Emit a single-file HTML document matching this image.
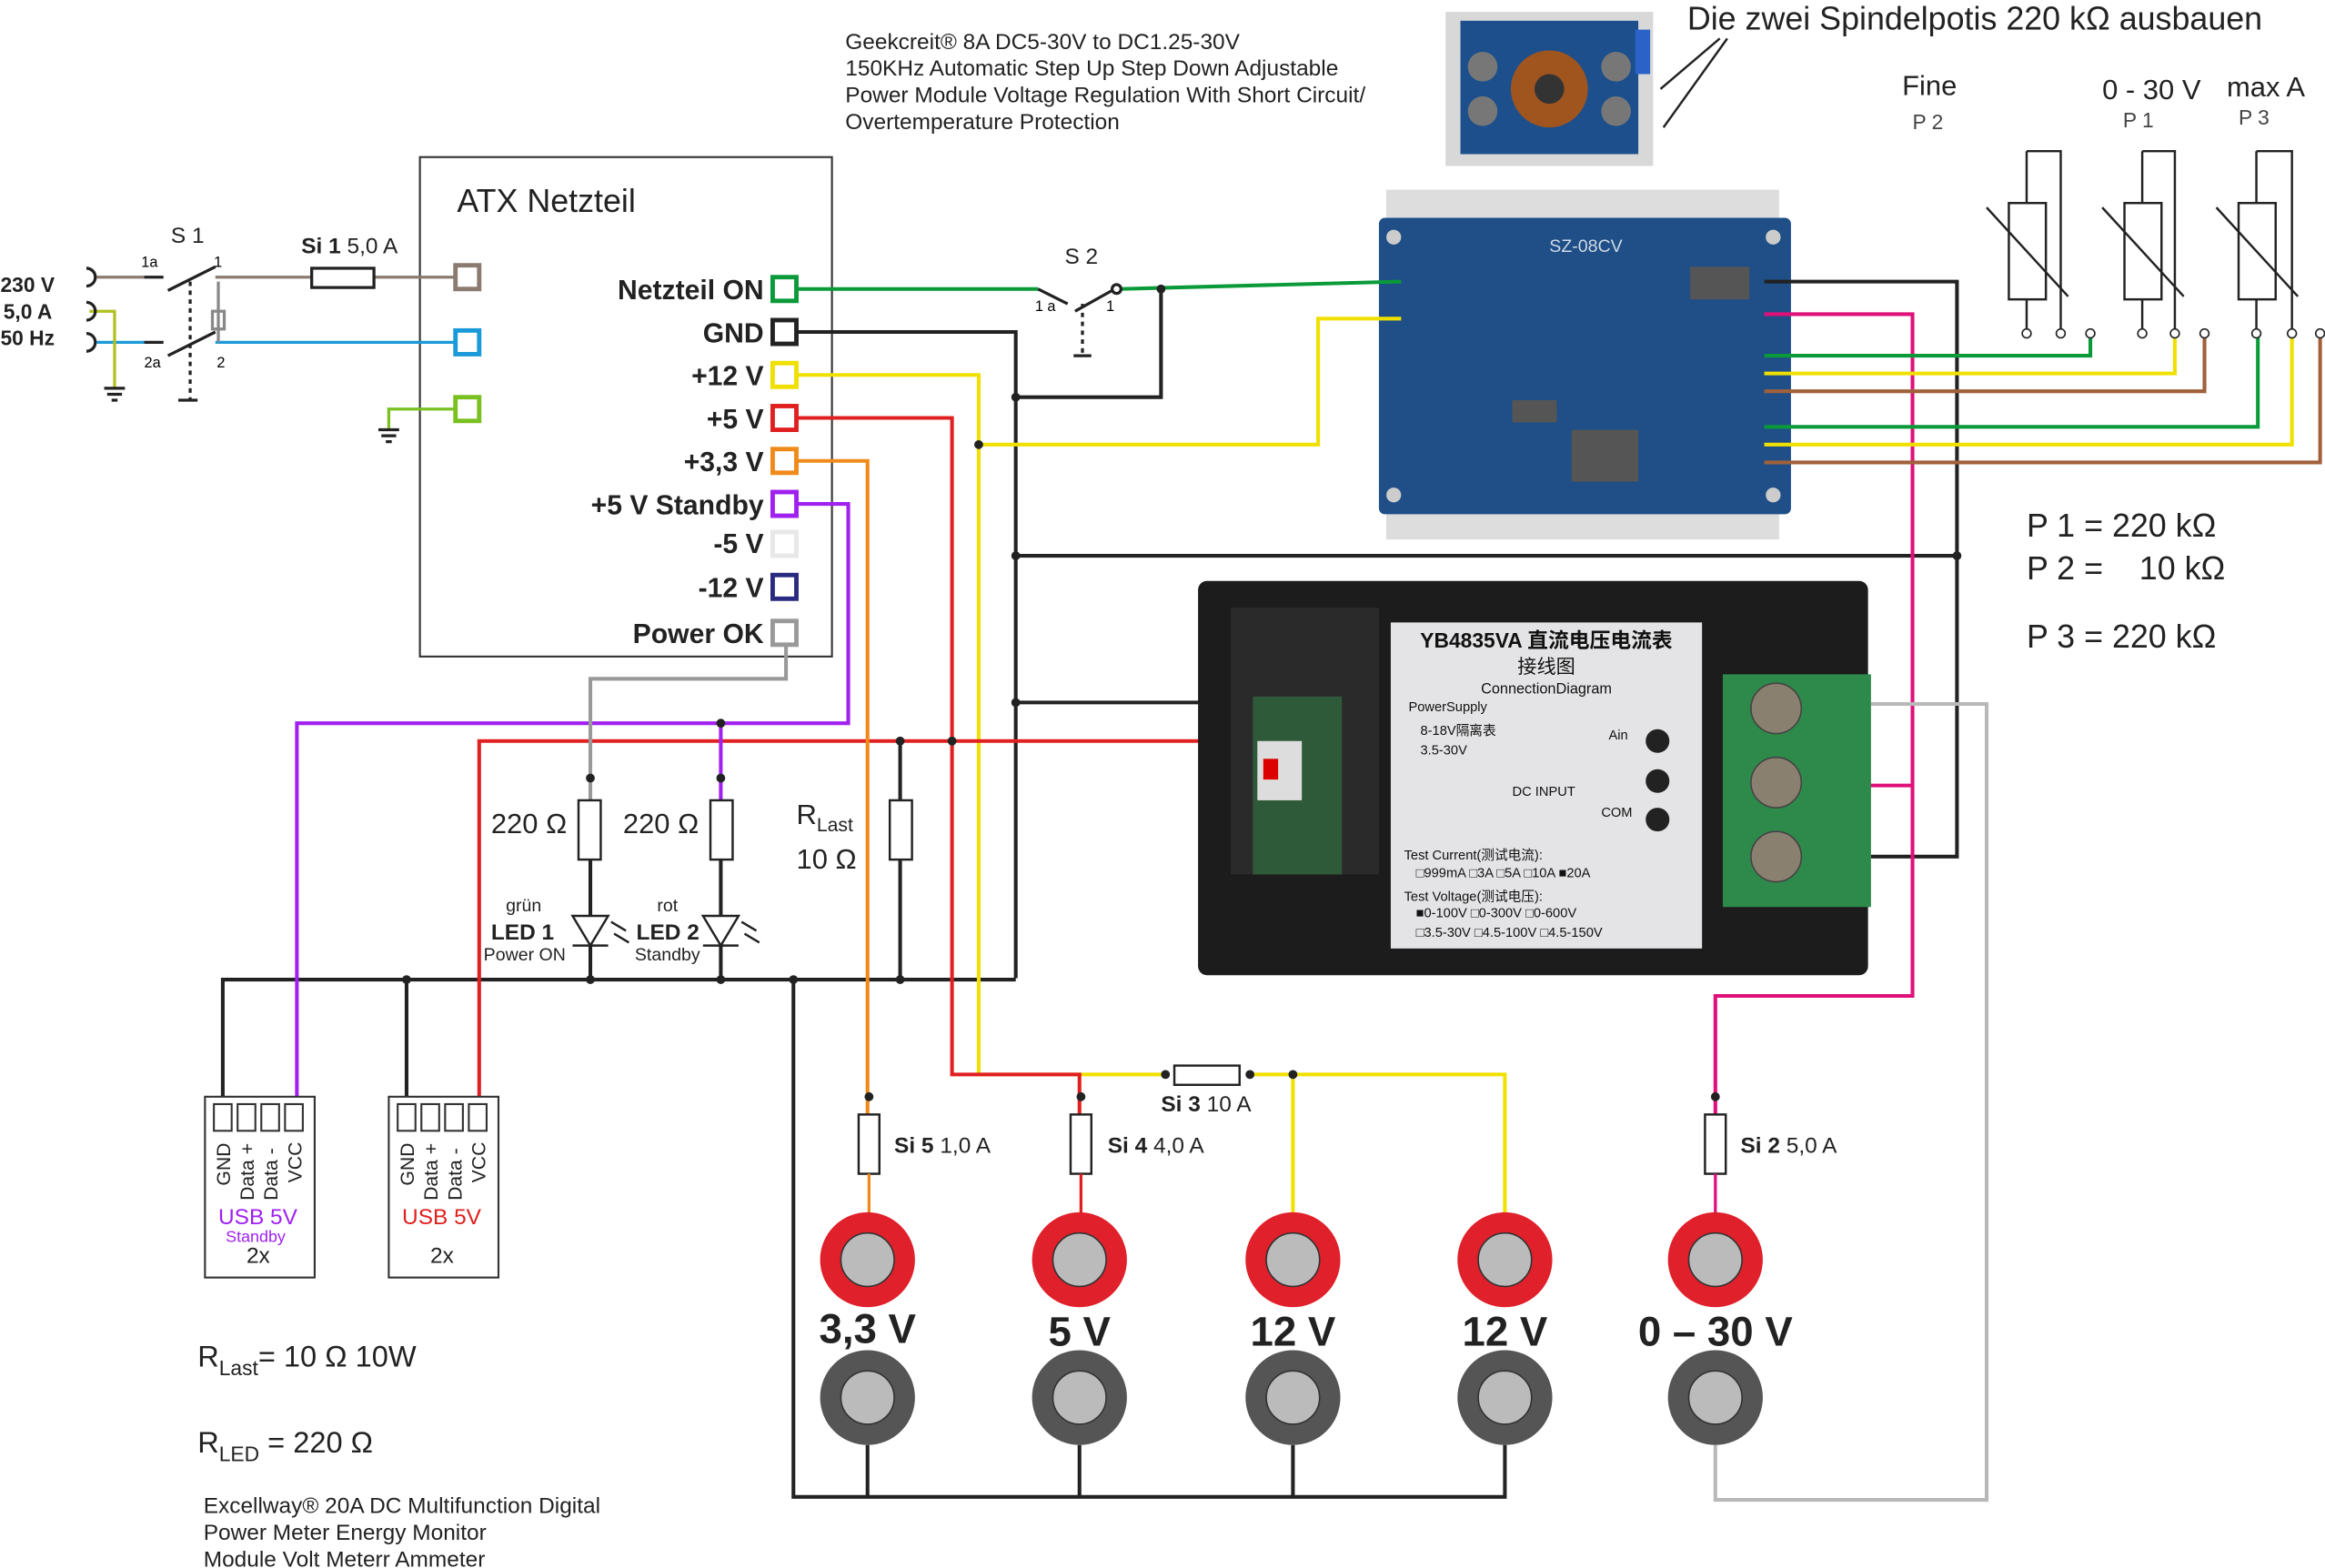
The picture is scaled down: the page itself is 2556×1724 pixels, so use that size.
<!DOCTYPE html>
<html><head><meta charset="utf-8"><style>
html,body{margin:0;padding:0;background:#fff}
svg{display:block}
text{font-family:"Liberation Sans","Noto Sans CJK SC",sans-serif}
</style></head><body>
<svg width="2556" height="1724" viewBox="0 0 1568 1058" xmlns="http://www.w3.org/2000/svg">
<rect width="1568" height="1058" fill="#fff"/>
<g font-size="15" fill="#222">
<text x="570" y="33">Geekcreit® 8A DC5-30V to DC1.25-30V</text>
<text x="570" y="51">150KHz Automatic Step Up Step Down Adjustable</text>
<text x="570" y="69">Power Module Voltage Regulation With Short Circuit/</text>
<text x="570" y="87">Overtemperature Protection</text>
</g>
<text x="1138" y="20" font-size="22" fill="#222">Die zwei Spindelpotis 220 kΩ ausbauen</text>
<g stroke="#222" stroke-width="1.5" fill="none">
<line x1="1160" y1="26" x2="1120" y2="60"/><line x1="1165" y1="26" x2="1122" y2="86"/>
</g>
<rect x="975" y="8" width="140" height="104" fill="#d8d8d8"/>
<rect x="985" y="14" width="120" height="90" fill="#1c4f8c"/>
<circle cx="1045" cy="60" r="26" fill="#a0541e"/><circle cx="1045" cy="60" r="10" fill="#333"/>
<circle cx="1000" cy="45" r="10" fill="#777"/><circle cx="1000" cy="75" r="10" fill="#777"/>
<circle cx="1090" cy="45" r="10" fill="#777"/><circle cx="1090" cy="75" r="10" fill="#777"/>
<rect x="1103" y="20" width="10" height="30" fill="#2a62c8"/>
<rect x="935" y="128" width="265" height="22" fill="#ddd"/>
<rect x="935" y="344" width="265" height="20" fill="#ddd"/>
<rect x="930" y="147" width="278" height="200" rx="4" fill="#1f4f86"/>
<g fill="#555"><rect x="1140" y="180" width="40" height="22"/><rect x="1020" y="270" width="30" height="15"/><rect x="1060" y="290" width="45" height="35"/></g>
<g fill="#ccc"><circle cx="940" cy="160" r="5"/><circle cx="1196" cy="160" r="5"/><circle cx="940" cy="334" r="5"/><circle cx="1196" cy="334" r="5"/></g>
<text x="1045" y="170" font-size="12" fill="#cfd8e8">SZ-08CV</text>
<rect x="283" y="106" width="278" height="337" fill="none" stroke="#333" stroke-width="1.3"/>
<text x="308" y="143" font-size="22" fill="#222">ATX Netzteil</text>
<g font-size="18.5" font-weight="bold" fill="#222" text-anchor="end">
<text x="515" y="202">Netzteil ON</text><text x="515" y="231">GND</text><text x="515" y="260">+12 V</text>
<text x="515" y="289">+5 V</text><text x="515" y="318">+3,3 V</text><text x="515" y="347">+5 V Standby</text>
<text x="515" y="373">-5 V</text><text x="515" y="403">-12 V</text><text x="515" y="434">Power OK</text>
</g>
<g fill="none" stroke-width="2.5">
<polyline stroke="#0a9a3a" points="538,195 700,195"/>
<polyline stroke="#0a9a3a" points="755,195 945,190"/>
<polyline stroke="#222" points="538,224 685,224 685,660"/>
<polyline stroke="#222" points="685,268 783,268 783,195"/>
<polyline stroke="#222" points="685,375 1320,375"/>
<polyline stroke="#222" points="1190,190 1320,190 1320,578 1262,578"/>
<polyline stroke="#222" points="685,474 876,474 876,515"/>
<polyline stroke="#222" points="150,745 150,661 685,661"/>
<polyline stroke="#222" points="274,745 274,661"/>
<polyline stroke="#222" points="535,661 535,1010 1015,1010 1015,975"/>
<polyline stroke="#222" points="585,975 585,1010"/><polyline stroke="#222" points="728,975 728,1010"/><polyline stroke="#222" points="872,975 872,1010"/>
<polyline stroke="#f0e000" points="538,253 660,253 660,725 785,725"/>
<polyline stroke="#f0e000" points="843,725 1015,725 1015,820"/>
<polyline stroke="#f0e000" points="872,725 872,820"/>
<polyline stroke="#f0e000" points="660,300 889,300 889,215 945,215"/>
<polyline stroke="#e02020" points="538,282 642,282 642,725 728,725 728,752"/>
<polyline stroke="#e02020" points="323,745 323,500 860,500 860,515"/>
<polyline stroke="#f08a1a" points="538,311 585,311 585,752"/>
<polyline stroke="#a020f0" points="538,340 572,340 572,488 200,488 200,745"/>
<polyline stroke="#999" points="530,436 530,458 398,458 398,540"/>
<polyline stroke="#e0107a" points="1190,212 1290,212 1290,672 1157,672 1157,752"/>
<polyline stroke="#e0107a" points="1200,530 1290,530"/>
<polyline stroke="#b8b8b8" points="1262,475 1340,475 1340,1012 1157,1012 1157,975"/>
<polyline stroke="#222" points="607,540 607,500"/>
<polyline stroke="#222" points="398,580 398,661"/><polyline stroke="#222" points="486,580 486,661"/><polyline stroke="#222" points="607,580 607,661"/>
<polyline stroke="#a020f0" points="486,488 486,540"/>
<polyline stroke="#0a9a3a" points="1190,240 1410,240 1410,225"/>
<polyline stroke="#f0e000" points="1190,252 1467,252 1467,225"/>
<polyline stroke="#a0603a" points="1190,264 1487,264 1487,225"/>
<polyline stroke="#0a9a3a" points="1190,288 1523,288 1523,225"/>
<polyline stroke="#f0e000" points="1190,300 1546,300 1546,225"/>
<polyline stroke="#a0603a" points="1190,312 1565,312 1565,225"/>
</g>
<g fill="#222"><circle cx="685" cy="268" r="3"/><circle cx="685" cy="375" r="3"/><circle cx="685" cy="474" r="3"/><circle cx="783" cy="195" r="3"/>
<circle cx="660" cy="300" r="3"/><circle cx="642" cy="500" r="3"/><circle cx="607" cy="500" r="3"/><circle cx="486" cy="488" r="3"/>
<circle cx="398" cy="661" r="3"/><circle cx="486" cy="661" r="3"/><circle cx="274" cy="661" r="3"/><circle cx="607" cy="661" r="3"/>
<circle cx="872" cy="725" r="3"/><circle cx="1320" cy="375" r="3"/><circle cx="535" cy="661" r="3"/><circle cx="398" cy="525" r="3"/><circle cx="486" cy="525" r="3"/></g>
<g stroke-width="3" fill="#fff">
<rect x="521" y="187" width="16" height="16" stroke="#0a9a3a"/>
<rect x="521" y="216" width="16" height="16" stroke="#222"/>
<rect x="521" y="245" width="16" height="16" stroke="#f0e000"/>
<rect x="521" y="274" width="16" height="16" stroke="#e02020"/>
<rect x="521" y="303" width="16" height="16" stroke="#f08a1a"/>
<rect x="521" y="332" width="16" height="16" stroke="#a020f0"/>
<rect x="521" y="359" width="16" height="16" stroke="#e8e8e8"/>
<rect x="521" y="388" width="16" height="16" stroke="#2a2a80"/>
<rect x="521" y="419" width="16" height="16" stroke="#999"/>
<rect x="307" y="179" width="16" height="16" stroke="#8a7a70"/>
<rect x="307" y="223" width="16" height="16" stroke="#1a9ad8"/>
<rect x="307" y="268" width="16" height="16" stroke="#7ac020"/>
</g>
<g font-size="14" font-weight="bold" fill="#222"><text x="0" y="197">230 V</text><text x="2" y="215">5,0 A</text><text x="0" y="233">50 Hz</text></g>
<g fill="none" stroke-width="2">
<polyline stroke="#8a7a70" points="65,187 97,187"/><polyline stroke="#8a7a70" points="145,187 210,187"/><polyline stroke="#8a7a70" points="252,187 307,187"/>
<polyline stroke="#1a9ad8" points="65,231 97,231"/><polyline stroke="#1a9ad8" points="145,231 307,231"/>
<polyline stroke="#b0c020" points="60,210 77,210 77,262"/>
<polyline stroke="#7ac020" points="307,276 262,276 262,290"/>
<path stroke="#222" d="M58,181 a6,6 0 0 1 0,12 M58,204 a6,6 0 0 1 0,12 M58,225 a6,6 0 0 1 0,12"/>
<path stroke="#222" d="M97,187 L110,187 M113,196 L145,180 M97,231 L110,231 M113,240 L145,224 M120,270 L133,270"/>
<line x1="128" y1="190" x2="128" y2="270" stroke="#222" stroke-dasharray="3,3"/>
<rect x="210" y="181" width="42" height="13" stroke="#222"/>
<path stroke="#222" d="M70,262 h14 M72,266 h10 M75,270 h4 M255,290 h14 M257,294 h10 M260,298 h4"/>
<line x1="147" y1="190" x2="147" y2="231" stroke="#888"/>
<rect x="143" y="210" width="8" height="12" stroke="#888"/>
</g>
<text x="115" y="164" font-size="15" fill="#222">S 1</text>
<text x="95" y="180" font-size="10">1a</text><text x="144" y="180" font-size="10">1</text>
<text x="97" y="248" font-size="10">2a</text><text x="146" y="248" font-size="10">2</text>
<text x="203" y="171" font-size="15" fill="#222"><tspan font-weight="bold">Si 1</tspan> 5,0 A</text>
<g fill="none" stroke="#222" stroke-width="2"><path d="M700,195 L720,205 M725,210 L750,196"/><circle cx="753" cy="195" r="3" fill="#fff"/><line x1="730" y1="205" x2="730" y2="240" stroke-dasharray="3,3"/><path d="M724,240 h12"/></g>
<text x="718" y="178" font-size="15" fill="#222">S 2</text>
<text x="698" y="210" font-size="10">1 a</text><text x="746" y="210" font-size="10">1</text>
<g fill="none" stroke="#222" stroke-width="1.5">
<rect x="1355" y="137" width="25" height="65"/><rect x="1433" y="137" width="25" height="65"/><rect x="1510" y="137" width="25" height="65"/>
<path d="M1367,202 V225 M1367,102 H1390 V225 M1367,102 V137"/>
<path d="M1445,202 V225 M1445,102 H1467 V225 M1445,102 V137"/>
<path d="M1522,202 V225 M1522,102 H1546 V225 M1522,102 V137"/>
<path d="M1340,140 L1395,200 M1418,140 L1473,200 M1495,140 L1550,200"/>
</g>
<g fill="#fff" stroke="#222"><circle cx="1367" cy="225" r="3"/><circle cx="1390" cy="225" r="3"/><circle cx="1410" cy="225" r="3"/><circle cx="1445" cy="225" r="3"/><circle cx="1467" cy="225" r="3"/><circle cx="1487" cy="225" r="3"/><circle cx="1522" cy="225" r="3"/><circle cx="1546" cy="225" r="3"/><circle cx="1565" cy="225" r="3"/></g>
<g font-size="19" fill="#222"><text x="1283" y="64">Fine</text><text x="1418" y="67">0 - 30 V</text><text x="1502" y="65">max A</text></g>
<g font-size="14" fill="#444"><text x="1290" y="87">P 2</text><text x="1432" y="86">P 1</text><text x="1510" y="84">P 3</text></g>
<g font-size="22" fill="#222"><text x="1367" y="362">P 1 = 220 kΩ</text><text x="1367" y="391" xml:space="preserve">P 2 =    10 kΩ</text><text x="1367" y="437">P 3 = 220 kΩ</text></g>
<rect x="808" y="392" width="452" height="266" rx="6" fill="#1c1c1c"/>
<rect x="830" y="410" width="100" height="180" fill="#2a2a2a"/>
<rect x="845" y="470" width="60" height="120" fill="#2f5a3a"/>
<rect x="848" y="500" width="30" height="40" fill="#ddd"/><rect x="852" y="512" width="10" height="14" fill="#d00"/>
<rect x="938" y="420" width="210" height="220" fill="#e4e4e6"/>
<text x="1043" y="437" font-size="14" font-weight="bold" text-anchor="middle" fill="#111">YB4835VA 直流电压电流表</text>
<text x="1043" y="454" font-size="13" text-anchor="middle" fill="#111">接线图</text>
<text x="1043" y="468" font-size="10" text-anchor="middle" fill="#111">ConnectionDiagram</text>
<g font-size="9" fill="#111"><text x="950" y="480">PowerSupply</text><text x="958" y="496">8-18V隔离表</text><text x="958" y="509">3.5-30V</text>
<text x="947" y="580">Test Current(测试电流):</text><text x="955" y="592">□999mA □3A □5A □10A ■20A</text>
<text x="947" y="608">Test Voltage(测试电压):</text><text x="955" y="619">■0-100V □0-300V □0-600V</text><text x="955" y="632">□3.5-30V □4.5-100V □4.5-150V</text>
<text x="1020" y="537">DC INPUT</text><text x="1085" y="499">Ain</text><text x="1080" y="551">COM</text></g>
<g fill="#222"><circle cx="1118" cy="500" r="8"/><circle cx="1118" cy="527" r="8"/><circle cx="1118" cy="553" r="8"/></g>
<rect x="1162" y="455" width="100" height="157" fill="#2e8a4a"/>
<g fill="#8a8070" stroke="#444"><circle cx="1198" cy="478" r="17"/><circle cx="1198" cy="528" r="17"/><circle cx="1198" cy="578" r="17"/></g>
<g fill="#fff" stroke="#222" stroke-width="1.5">
<rect x="390" y="540" width="15" height="40"/><rect x="479" y="540" width="15" height="40"/><rect x="600" y="540" width="15" height="40"/>
<path d="M386,618 H410 L398,638 Z M386,638 H410"/><path d="M474,618 H498 L486,638 Z M474,638 H498"/>
<path d="M412,622 l10,6 M414,630 l10,6 M500,622 l10,6 M502,630 l10,6" fill="none"/>
</g>
<g font-size="19" fill="#222"><text x="331" y="562">220 Ω</text><text x="420" y="562">220 Ω</text>
<text x="537" y="556">R<tspan font-size="13" dy="5">Last</tspan></text><text x="537" y="586">10 Ω</text></g>
<g font-size="12" fill="#222"><text x="341" y="615">grün</text><text x="443" y="615">rot</text><text x="326" y="648">Power ON</text><text x="428" y="648">Standby</text></g>
<g font-size="15" font-weight="bold" fill="#222"><text x="331" y="634">LED 1</text><text x="429" y="634">LED 2</text></g>
<g fill="#fff" stroke="#333" stroke-width="1.3">
<rect x="138" y="740" width="74" height="122"/><rect x="262" y="740" width="74" height="122"/>
<rect x="144" y="745" width="12" height="18"/><rect x="160" y="745" width="12" height="18"/><rect x="176" y="745" width="12" height="18"/><rect x="192" y="745" width="12" height="18"/>
<rect x="268" y="745" width="12" height="18"/><rect x="284" y="745" width="12" height="18"/><rect x="300" y="745" width="12" height="18"/><rect x="316" y="745" width="12" height="18"/>
</g>
<g font-size="13" fill="#222">
<text transform="translate(155,800) rotate(-90)">GND</text><text transform="translate(171,810) rotate(-90)">Data +</text><text transform="translate(187,810) rotate(-90)">Data -</text><text transform="translate(203,798) rotate(-90)">VCC</text>
<text transform="translate(279,800) rotate(-90)">GND</text><text transform="translate(295,810) rotate(-90)">Data +</text><text transform="translate(311,810) rotate(-90)">Data -</text><text transform="translate(327,798) rotate(-90)">VCC</text>
</g>
<text x="147" y="826" font-size="15" fill="#a020f0">USB 5V</text><text x="152" y="838" font-size="11" fill="#a020f0">Standby</text>
<text x="271" y="826" font-size="15" fill="#e02020">USB 5V</text>
<text x="166" y="852" font-size="15" fill="#222">2x</text><text x="290" y="852" font-size="15" fill="#222">2x</text>
<g fill="#fff" stroke="#222" stroke-width="1.5">
<rect x="579" y="752" width="14" height="40"/><rect x="722" y="752" width="14" height="40"/><rect x="1150" y="752" width="14" height="40"/>
<rect x="792" y="719" width="44" height="13"/>
</g>
<g fill="#222"><circle cx="586" cy="740" r="3"/><circle cx="729" cy="740" r="3"/><circle cx="1157" cy="740" r="3"/><circle cx="786" cy="725" r="3"/><circle cx="843" cy="725" r="3"/></g>
<g stroke-width="2"><line x1="586" y1="792" x2="586" y2="820" stroke="#f08a1a"/><line x1="729" y1="792" x2="729" y2="820" stroke="#e02020"/><line x1="1157" y1="792" x2="1157" y2="820" stroke="#e0107a"/></g>
<g font-size="15" fill="#222"><text x="603" y="778"><tspan font-weight="bold">Si 5</tspan> 1,0 A</text><text x="747" y="778"><tspan font-weight="bold">Si 4</tspan> 4,0 A</text>
<text x="783" y="750"><tspan font-weight="bold">Si 3</tspan> 10 A</text><text x="1174" y="778"><tspan font-weight="bold">Si 2</tspan> 5,0 A</text></g>
<g>
<g transform="translate(585,0)"><circle cy="850" r="32" fill="#e0202a"/><circle cy="850" r="18" fill="#bbb" stroke="#333"/><circle cy="943" r="32" fill="#555"/><circle cy="943" r="18" fill="#bbb" stroke="#333"/></g>
<g transform="translate(728,0)"><circle cy="850" r="32" fill="#e0202a"/><circle cy="850" r="18" fill="#bbb" stroke="#333"/><circle cy="943" r="32" fill="#555"/><circle cy="943" r="18" fill="#bbb" stroke="#333"/></g>
<g transform="translate(872,0)"><circle cy="850" r="32" fill="#e0202a"/><circle cy="850" r="18" fill="#bbb" stroke="#333"/><circle cy="943" r="32" fill="#555"/><circle cy="943" r="18" fill="#bbb" stroke="#333"/></g>
<g transform="translate(1015,0)"><circle cy="850" r="32" fill="#e0202a"/><circle cy="850" r="18" fill="#bbb" stroke="#333"/><circle cy="943" r="32" fill="#555"/><circle cy="943" r="18" fill="#bbb" stroke="#333"/></g>
<g transform="translate(1157,0)"><circle cy="850" r="32" fill="#e0202a"/><circle cy="850" r="18" fill="#bbb" stroke="#333"/><circle cy="943" r="32" fill="#555"/><circle cy="943" r="18" fill="#bbb" stroke="#333"/></g>
</g>
<g font-size="28" font-weight="bold" fill="#222" text-anchor="middle">
<text x="585" y="906">3,3 V</text><text x="728" y="908">5 V</text><text x="872" y="908">12 V</text><text x="1015" y="908">12 V</text><text x="1157" y="908">0 – 30 V</text></g>
<text x="133" y="922" font-size="20" fill="#222">R<tspan font-size="14" dy="6">Last</tspan><tspan dy="-6">= 10 Ω 10W</tspan></text>
<text x="133" y="980" font-size="20" fill="#222">R<tspan font-size="14" dy="6">LED</tspan><tspan dy="-6"> = 220 Ω</tspan></text>
<g font-size="15" fill="#222"><text x="137" y="1021">Excellway® 20A DC Multifunction Digital</text><text x="137" y="1039">Power Meter Energy Monitor</text><text x="137" y="1057">Module Volt Meterr Ammeter</text></g>
</svg>
</body></html>
